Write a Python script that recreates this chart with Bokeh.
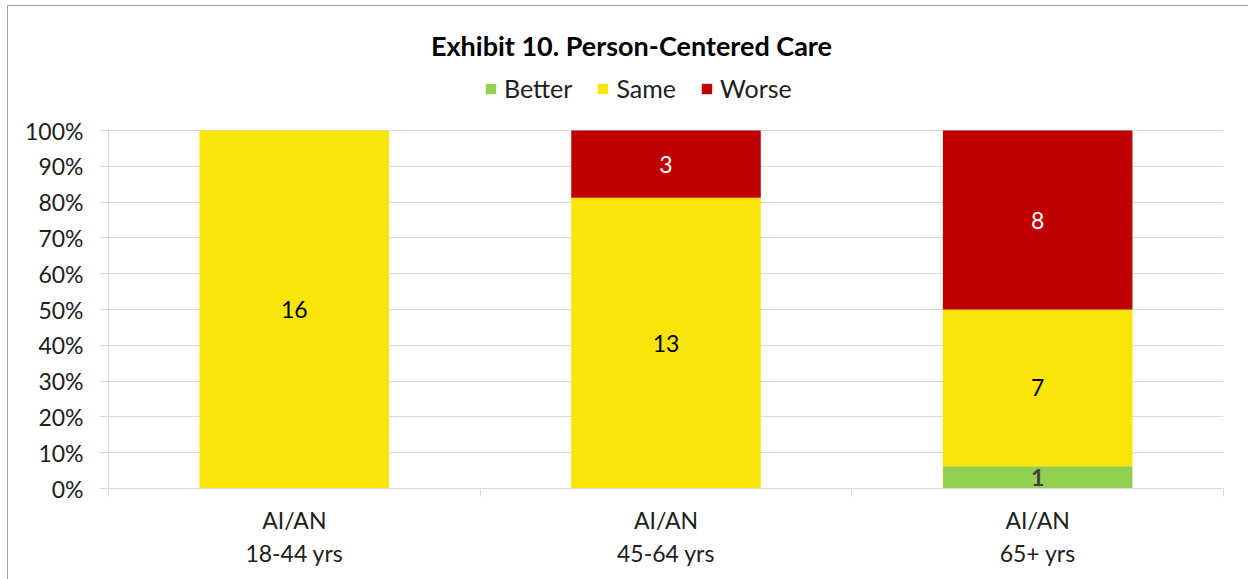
from bokeh.plotting import figure
from bokeh.models import (ColumnDataSource, Range1d, FixedTicker, NumeralTickFormatter,
                          Legend, LegendItem, LabelSet, Label)
from bokeh.core.properties import value
from bokeh.embed import file_html
from bokeh.resources import INLINE

# ---- data ----
categories = ["AI/AN\n18-44 yrs", "AI/AN\n45-64 yrs", "AI/AN\n65+ yrs"]
series = ["Better", "Same", "Worse"]
better = [0, 0, 1]
same = [16, 13, 7]
worse = [0, 3, 8]
colors = ["#92D050", "#F9E50A", "#C00000"]
label_colors = ["#404040", "#000000", "#FFFFFF"]
label_styles = ["bold", "normal", "normal"]
y_ticks = [0.0, 0.1, 0.2, 0.3, 0.4, 0.5, 0.6, 0.7, 0.8, 0.9, 1.0]
title_text = "Exhibit 10. Person-Centered Care"

FONT = "Lato"

totals = [b + s + w for b, s, w in zip(better, same, worse)]
xs = [i + 0.5 for i in range(len(categories))]
shares = {
    "Better": [b / t for b, t in zip(better, totals)],
    "Same": [s / t for s, t in zip(same, totals)],
    "Worse": [w / t for w, t in zip(worse, totals)],
}
counts = {"Better": better, "Same": same, "Worse": worse}

source = ColumnDataSource(dict(x=xs, **shares))

# frame spans from 10px to 488px vertically; 100% sits at 130px
y_top = 478 / 358
p = figure(frame_width=1115, frame_height=478,
           min_border_left=108, min_border_right=25,
           min_border_top=10, min_border_bottom=91,
           x_range=Range1d(0, len(categories)), y_range=Range1d(0, y_top),
           output_backend="svg", toolbar_location=None,
           background_fill_color="white", border_fill_alpha=0)
p.outline_line_color = None
p.styles = {
    "background": ("linear-gradient(#A0A0A0, #A0A0A0) 7px 5px / 1241px 1px no-repeat, "
                   "linear-gradient(#A0A0A0, #A0A0A0) 7px 5px / 1px 574px no-repeat, #FFFFFF"),
}

renderers = p.vbar_stack(series, x="x", width=0.51, color=colors,
                         line_color=None, source=source)

# data labels
lx, ly, lt, lc, ls = [], [], [], [], []
for i in range(len(categories)):
    base = 0.0
    for k, s in enumerate(series):
        h = shares[s][i]
        if counts[s][i] > 0:
            lx.append(xs[i])
            ly.append(base + h / 2)
            lt.append(str(counts[s][i]))
            lc.append(label_colors[k])
            ls.append(label_styles[k])
        base += h
lab_src = ColumnDataSource(dict(x=lx, y=ly, text=lt, color=lc, style=ls))
p.add_layout(LabelSet(x="x", y="y", text="text", source=lab_src,
                      text_color="color", text_font_style="style",
                      text_align="center", text_baseline="middle",
                      text_font=value(FONT), text_font_size=value("23px")))

# axes
p.yaxis.bounds = (0, 1)
p.yaxis.ticker = FixedTicker(ticks=y_ticks)
p.yaxis.formatter = NumeralTickFormatter(format="0%")
p.yaxis.axis_line_color = "#D9D9D9"
p.yaxis.major_tick_line_color = "#D9D9D9"
p.yaxis.major_tick_out = 8
p.yaxis.major_tick_in = 0
p.yaxis.minor_tick_line_color = None
p.yaxis.major_label_standoff = 17
p.yaxis.major_label_text_font = FONT
p.yaxis.major_label_text_font_size = "23px"
p.yaxis.major_label_text_color = "#202020"

p.xaxis.ticker = FixedTicker(ticks=xs, minor_ticks=[float(i) for i in range(len(categories) + 1)])
p.xaxis.major_label_overrides = {x: c for x, c in zip(xs, categories)}
p.xaxis.axis_line_color = "#D9D9D9"
p.xaxis.major_tick_line_color = None
p.xaxis.major_tick_out = 0
p.xaxis.major_tick_in = 0
p.xaxis.minor_tick_line_color = "#D9D9D9"
p.xaxis.minor_tick_out = 8
p.xaxis.minor_tick_in = 0
p.xaxis.major_label_standoff = 9
p.xaxis.major_label_text_font = FONT
p.xaxis.major_label_text_font_size = "23px"
p.xaxis.major_label_text_color = "#202020"
p.xaxis.major_label_text_line_height = 1.2

p.xgrid.grid_line_color = None
p.ygrid.ticker = FixedTicker(ticks=y_ticks)
p.ygrid.grid_line_color = "#D9D9D9"
p.ygrid.grid_line_width = 1

# title (inside the extended frame, above the 100% line)
p.add_layout(Label(x=1.407, y=(488 - 45) / 358, text=title_text, text_align="center",
                   text_baseline="middle", text_font=FONT, text_font_size="27px",
                   text_font_style="bold", text_color="#000000"))

# legend
items = [LegendItem(label=s, renderers=[r]) for s, r in zip(series, renderers)]
legend = Legend(items=items, orientation="horizontal", location=(376, 385),
                glyph_width=13, glyph_height=13, label_standoff=7, spacing=24,
                padding=0, margin=0, border_line_color=None,
                background_fill_alpha=0, label_text_font=FONT,
                label_text_font_size="25px", label_text_color="#202020")
p.add_layout(legend, "center")

open("out.html", "w").write(file_html(p, INLINE))
